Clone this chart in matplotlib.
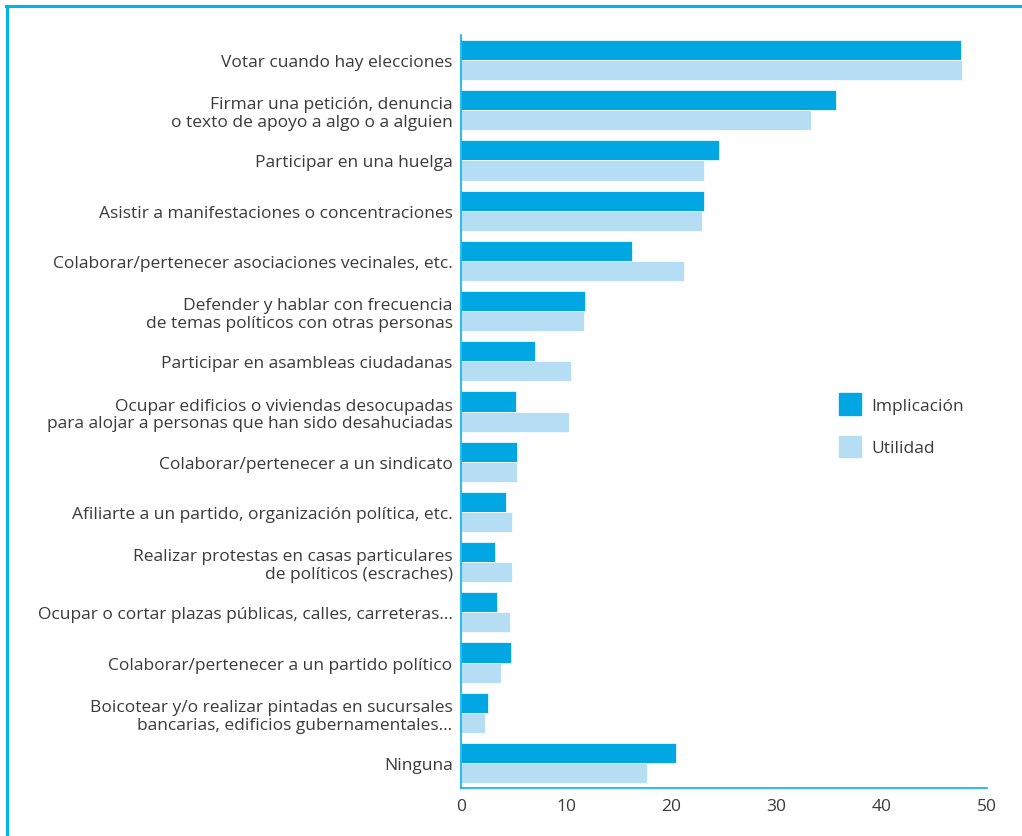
import matplotlib.pyplot as plt
import numpy as np
from matplotlib.lines import Line2D

plt.rcParams['font.family'] = ['Open Sans', 'DejaVu Sans']

# data (%)
categories = [
    'Votar cuando hay elecciones',
    'Firmar una petición, denuncia\no texto de apoyo a algo o a alguien',
    'Participar en una huelga',
    'Asistir a manifestaciones o concentraciones',
    'Colaborar/pertenecer asociaciones vecinales, etc.',
    'Defender y hablar con frecuencia\nde temas políticos con otras personas',
    'Participar en asambleas ciudadanas',
    'Ocupar edificios o viviendas desocupadas\npara alojar a personas que han sido desahuciadas',
    'Colaborar/pertenecer a un sindicato',
    'Afiliarte a un partido, organización política, etc.',
    'Realizar protestas en casas particulares\nde políticos (escraches)',
    'Ocupar o cortar plazas públicas, calles, carreteras...',
    'Colaborar/pertenecer a un partido político',
    'Boicotear y/o realizar pintadas en sucursales\nbancarias, edificios gubernamentales...',
    'Ninguna',
]
implicacion = [47.5, 35.6, 24.5, 23.1, 16.3, 11.8, 7.0, 5.2, 5.3, 4.3, 3.2, 3.4, 4.8, 2.6, 20.4]
utilidad = [47.6, 33.3, 23.1, 22.9, 21.2, 11.7, 10.5, 10.3, 5.3, 4.9, 4.9, 4.7, 3.8, 2.3, 17.7]
series_names = ['Implicación', 'Utilidad']

dark = '#00a7e3'
light = '#b5def5'
frame_col = '#00b2ef'
txt = '#3a3a3a'

fig = plt.figure(figsize=(10.22, 8.37), dpi=100)
ax = fig.add_axes([0.451, 0.0573, 0.5148, 0.8997])

y = np.arange(len(categories))
h = 0.4
ax.barh(y - h / 2, implicacion, height=h, color=dark, edgecolor='white', linewidth=0.5)
ax.barh(y + h / 2, utilidad, height=h, color=light, edgecolor='white', linewidth=0.5)

ax.set_xlim(0, 50)
ax.set_ylim(14.5, -0.5)
ax.set_xticks([0, 10, 20, 30, 40, 50])
ax.set_yticks(y)
ax.set_yticklabels(categories, fontsize=12.5, color=txt, linespacing=1.15)
ax.tick_params(axis='both', length=0)
ax.tick_params(axis='y', pad=6)
ax.tick_params(axis='x', pad=7, labelsize=12.5, labelcolor=txt)
for s in ['top', 'right']:
    ax.spines[s].set_visible(False)
for s in ['left', 'bottom']:
    ax.spines[s].set_color(frame_col)
    ax.spines[s].set_linewidth(1.2)

# legend squares
handles = [plt.Rectangle((0, 0), 1, 1, color=dark), plt.Rectangle((0, 0), 1, 1, color=light)]
fig.legend(handles, series_names, loc='upper left', bbox_to_anchor=(0.806, 0.548),
           frameon=False, fontsize=12.5, labelcolor=txt, handlelength=1.25, handleheight=1.55,
           labelspacing=1.2, handletextpad=0.6)

# outer frame
fig.add_artist(Line2D([0.007, 0.007], [0, 0.992], color=frame_col, lw=2.2, transform=fig.transFigure))
fig.add_artist(Line2D([0.006, 1.0], [0.9915, 0.9915], color=frame_col, lw=2.2, transform=fig.transFigure))

fig.savefig('out.png', dpi=100)
